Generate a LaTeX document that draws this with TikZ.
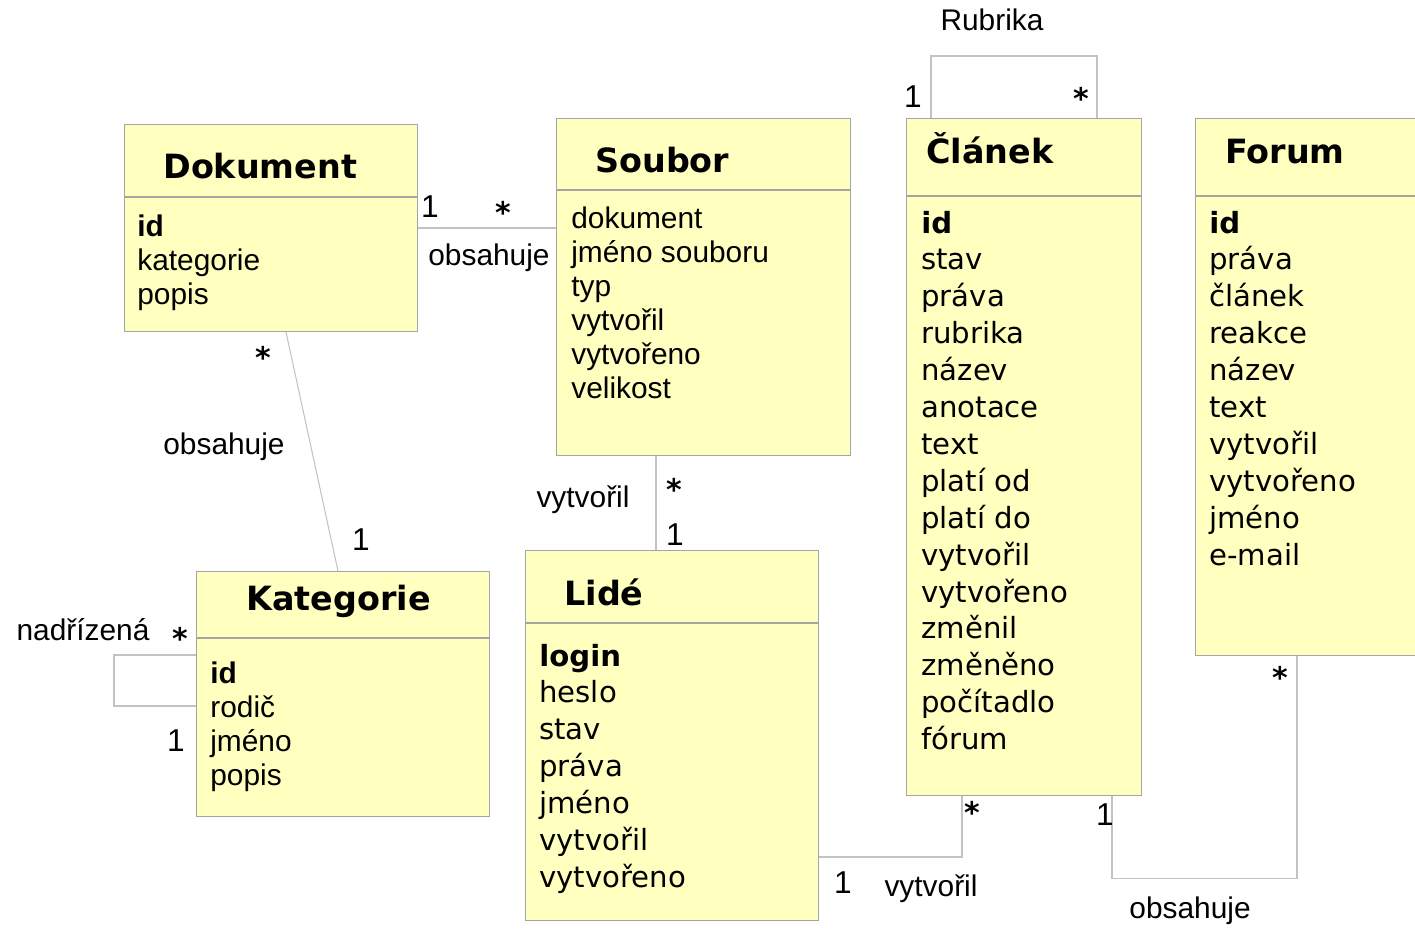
\documentclass[tikz,border=0pt]{standalone}
\usepackage{fontspec}
\setmainfont{Liberation Sans}
\newfontfamily\dejavu{DejaVu Sans}
\usetikzlibrary{calc}

\definecolor{boxfill}{RGB}{255,255,192}
\definecolor{boxline}{RGB}{165,165,165}
\definecolor{linkline}{RGB}{195,195,195}

\tikzset{
  classbox/.style={draw=boxline, fill=boxfill, line width=0.6pt, inner sep=0pt, anchor=north west},
  classtitle/.style={font=\dejavu\bfseries\fontsize{19}{23}\selectfont, anchor=base west, inner sep=0pt},
  attr/.style={font=\fontsize{17}{20}\selectfont, anchor=base west, inner sep=0pt},
  attrdv/.style={font=\dejavu\fontsize{16.6}{20}\selectfont, anchor=base west, inner sep=0pt},
  link/.style={draw=linkline, line width=0.6pt},
  mult/.style={font=\fontsize{18}{20}\selectfont, inner sep=0pt},
  rolename/.style={font=\fontsize{17}{20}\selectfont, inner sep=0pt},
  star/.style={font=\dejavu\bfseries\fontsize{17}{20}\selectfont, inner sep=0pt},
}

\begin{document}
\begin{tikzpicture}[x=0.02cm, y=-0.02cm]
\useasboundingbox (0,0) rectangle (1415,931);
\clip (0,0) rectangle (1415,931);

% class boxes
\node[classbox, minimum width=5.86cm, minimum height=4.14cm] (dok) at (124,124) {};
\node[classbox, minimum width=5.88cm, minimum height=6.74cm] (soubor) at (556,118) {};
\node[classbox, minimum width=4.70cm, minimum height=13.54cm] (clanek) at (906,118) {};
\node[classbox, minimum width=4.50cm, minimum height=10.74cm] (forum) at (1195,118) {};
\node[classbox, minimum width=5.86cm, minimum height=4.90cm] (kat) at (196,571) {};
\node[classbox, minimum width=5.86cm, minimum height=7.40cm] (lide) at (525,550) {};
%
\draw[boxline, line width=0.6pt] ($(dok.north west)+(0,73)$) -- ($(dok.north east)+(0,73)$);
\draw[boxline, line width=0.6pt] ($(soubor.north west)+(0,72)$) -- ($(soubor.north east)+(0,72)$);
\draw[boxline, line width=0.6pt] ($(clanek.north west)+(0,78)$) -- ($(clanek.north east)+(0,78)$);
\draw[boxline, line width=0.6pt] ($(forum.north west)+(0,78)$) -- ($(forum.north east)+(0,78)$);
\draw[boxline, line width=0.6pt] ($(kat.north west)+(0,67)$) -- ($(kat.north east)+(0,67)$);
\draw[boxline, line width=0.6pt] ($(lide.north west)+(0,73)$) -- ($(lide.north east)+(0,73)$);

% titles
\node[classtitle] (dok-t) at ($(dok.north west)+(39,54)$) {Dokument};
\node[classtitle] (soubor-t) at ($(soubor.north west)+(39,54)$) {Soubor};
\node[classtitle] (clanek-t) at ($(clanek.north west)+(20,45)$) {Článek};
\node[classtitle] (forum-t) at ($(forum.north west)+(30,45)$) {Forum};
\node[classtitle] (kat-t) at ($(kat.north west)+(50,39)$) {Kategorie};
\node[classtitle] (lide-t) at ($(lide.north west)+(39,55)$) {Lidé};

% attributes
\foreach \a [count=\i from 0] in {\textbf{id}, kategorie, popis}
  \node[attr] (dok-\i) at ($(dok.north west)+(13,112+34*\i)$) {\a};
\foreach \a [count=\i from 0] in {dokument, jméno souboru, typ, vytvořil, vytvořeno, velikost}
  \node[attr] (soubor-\i) at ($(soubor.north west)+(15,110+34*\i)$) {\a};
\foreach \a [count=\i from 0] in {\textbf{id}, rodič, jméno, popis}
  \node[attr] (kat-\i) at ($(kat.north west)+(14,112+34*\i)$) {\a};
\foreach \a [count=\i from 0] in {\textbf{id}, stav, práva, rubrika, název, anotace, text, platí od, platí do, vytvořil, vytvořeno, změnil, změněno, počítadlo, fórum}
  \node[attrdv] (clanek-\i) at ($(clanek.north west)+(15,115+36.9*\i)$) {\a};
\foreach \a [count=\i from 0] in {\textbf{id}, práva, článek, reakce, název, text, vytvořil, vytvořeno, jméno, e-mail}
  \node[attrdv] (forum-\i) at ($(forum.north west)+(14,115+36.9*\i)$) {\a};
\foreach \a [count=\i from 0] in {\textbf{login}, heslo, stav, práva, jméno, vytvořil, vytvořeno}
  \node[attrdv] (lide-\i) at ($(lide.north west)+(14,116+36.9*\i)$) {\a};

% connectors
\draw[link] ($(dok.north east)+(0,104)$) -- ($(soubor.north west)+(0,110)$);
\draw[link] ($(dok.south west)+(162,0)$) -- ($(kat.north west)+(142,0)$);
\draw[link] ($(kat.north west)+(0,84)$) -- ++(-82,0) |- ($(kat.north west)+(0,135)$);
\draw[link] ($(soubor.south west)+(100,0)$) -- ($(lide.north west)+(131,0)$);
\draw[link] ($(clanek.north west)+(25,0)$) -- ++(0,-62) -| ($(clanek.north west)+(191,0)$);
\draw[link] ($(lide.north east)+(0,307)$) -| ($(clanek.south west)+(56,0)$);
\draw[link] ($(clanek.south west)+(206,0)$) -- ++(0,83) -| ($(forum.south west)+(102,0)$);

% labels
\node[mult] (m1) at (430,207) {1};
\node[star] (m2) at (503,212) {*};
\node[rolename] (l1) at (489,258) {obsahuje};
\node[star] (m3) at (263,357) {*};
\node[rolename] (l2) at (224,447) {obsahuje};
\node[mult] (m4) at (361,540) {1};
\node[rolename] (l3) at (83,630) {nadřízená};
\node[star] (m5) at (180,638) {*};
\node[mult] (m6) at (176,741) {1};
\node[rolename] (l4) at (583,500) {vytvořil};
\node[star] (m7) at (674,489) {*};
\node[mult] (m8) at (675,535) {1};
\node[rolename] (l5) at (992,20) {Rubrika};
\node[mult] (m9) at (913,97) {1};
\node[star] (m10) at (1081,98) {*};
\node[star] (m11) at (972,812) {*};
\node[mult] (m12) at (843,883) {1};
\node[rolename] (l6) at (931,889) {vytvořil};
\node[mult] (m13) at (1105,815) {1};
\node[star] (m14) at (1280,677) {*};
\node[rolename] (l7) at (1190,911) {obsahuje};
\end{tikzpicture}
\end{document}
